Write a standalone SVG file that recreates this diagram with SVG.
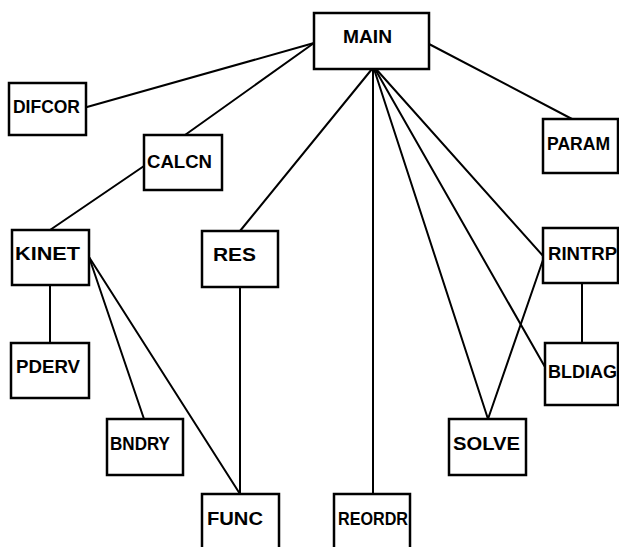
<svg xmlns="http://www.w3.org/2000/svg" width="619" height="547" viewBox="0 0 619 547">
<style>
.box{fill:#fff;stroke:#000;stroke-width:2.5}
line{stroke:#000;stroke-width:2;stroke-linecap:round}
text{font-family:"Liberation Sans",Arial,sans-serif;font-weight:bold;font-size:18px;fill:#000}
</style>
<rect width="619" height="547" fill="#fff"/>
<g id="connectors">
<line x1="314" y1="43" x2="87" y2="107"/>
<line x1="314" y1="43" x2="185" y2="135"/>
<line x1="429" y1="44" x2="572" y2="119"/>
<line x1="372" y1="69" x2="240" y2="231"/>
<line x1="373" y1="69" x2="373" y2="494"/>
<line x1="374" y1="69" x2="488" y2="419"/>
<line x1="375" y1="69" x2="545" y2="367"/>
<line x1="376" y1="69" x2="544" y2="257"/>
<line x1="144" y1="166" x2="50" y2="230"/>
<line x1="50" y1="285" x2="50" y2="343"/>
<line x1="89" y1="257" x2="144" y2="419"/>
<line x1="89" y1="257" x2="240" y2="494"/>
<line x1="240" y1="287" x2="240" y2="494"/>
<line x1="488" y1="419" x2="544" y2="257"/>
<line x1="582" y1="283" x2="582" y2="343"/>
</g>
<g id="MAIN"><rect class="box" x="314" y="13" width="115" height="56"/><text x="343" y="43" textLength="49" lengthAdjust="spacingAndGlyphs">MAIN</text></g>
<g id="DIFCOR"><rect class="box" x="9" y="83" width="77" height="52"/><text x="13" y="113" textLength="67" lengthAdjust="spacingAndGlyphs">DIFCOR</text></g>
<g id="CALCN"><rect class="box" x="144" y="135" width="78" height="55"/><text x="147" y="168" textLength="65" lengthAdjust="spacingAndGlyphs">CALCN</text></g>
<g id="PARAM"><rect class="box" x="543" y="119" width="75" height="54"/><text x="547" y="150" textLength="63" lengthAdjust="spacingAndGlyphs">PARAM</text></g>
<g id="KINET"><rect class="box" x="12" y="230" width="77" height="55"/><text x="15" y="260" textLength="65" lengthAdjust="spacingAndGlyphs">KINET</text></g>
<g id="RES"><rect class="box" x="202" y="231" width="76" height="56"/><text x="213" y="261" textLength="43" lengthAdjust="spacingAndGlyphs">RES</text></g>
<g id="RINTRP"><rect class="box" x="543" y="228" width="75" height="55"/><text x="548" y="260" textLength="69" lengthAdjust="spacingAndGlyphs">RINTRP</text></g>
<g id="PDERV"><rect class="box" x="11" y="343" width="78" height="55"/><text x="16" y="373" textLength="64" lengthAdjust="spacingAndGlyphs">PDERV</text></g>
<g id="BLDIAG"><rect class="box" x="545" y="343" width="73" height="62"/><text x="548" y="378" textLength="69" lengthAdjust="spacingAndGlyphs">BLDIAG</text></g>
<g id="BNDRY"><rect class="box" x="107" y="419" width="76" height="56"/><text x="110" y="450" textLength="60" lengthAdjust="spacingAndGlyphs">BNDRY</text></g>
<g id="SOLVE"><rect class="box" x="449" y="419" width="77" height="56"/><text x="453" y="450" textLength="67" lengthAdjust="spacingAndGlyphs">SOLVE</text></g>
<g id="FUNC"><rect class="box" x="202" y="494" width="77" height="70"/><text x="207" y="525" textLength="56" lengthAdjust="spacingAndGlyphs">FUNC</text></g>
<g id="REORDR"><rect class="box" x="334" y="494" width="76" height="70"/><text x="338" y="525" textLength="70" lengthAdjust="spacingAndGlyphs">REORDR</text></g>
</svg>
